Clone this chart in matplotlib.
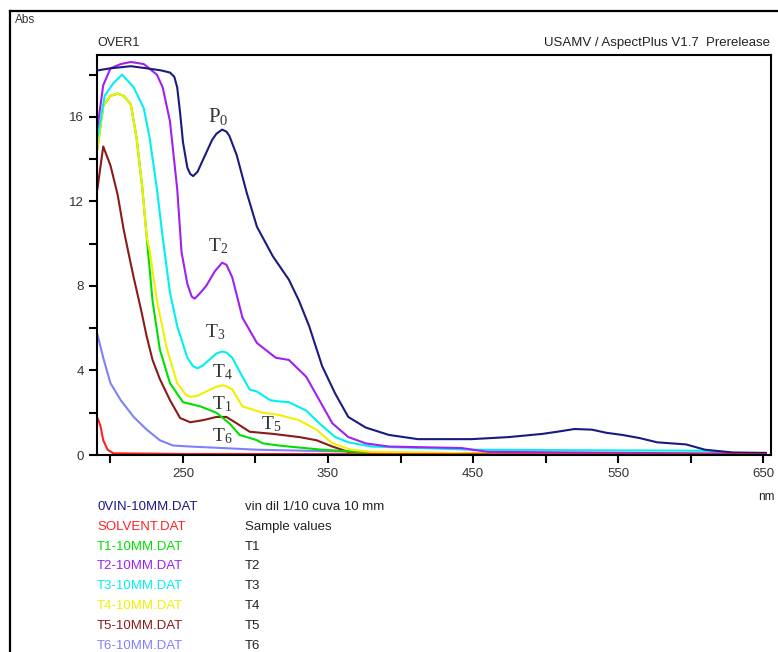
import matplotlib
matplotlib.use('Agg')
import matplotlib.pyplot as plt
from matplotlib.lines import Line2D

# absorbance spectra (nm, Abs)
p0_nm = [191, 200, 214, 225, 235, 241, 244, 246, 248, 250, 253, 255, 257, 260, 266, 270, 273, 277, 280,
         282, 287, 294, 301, 312, 323, 330, 337, 346, 355, 364, 376, 392, 412, 449, 475, 498, 508, 520,
         532, 542, 553, 565, 577, 597, 610, 629, 652]
p0_abs = [18.2, 18.3, 18.4, 18.3, 18.2, 18.1, 17.9, 17.4, 16.2, 14.8, 13.6, 13.3, 13.2, 13.4, 14.3, 14.9,
          15.2, 15.4, 15.3, 15.1, 14.2, 12.4, 10.8, 9.4, 8.3, 7.3, 6.1, 4.2, 2.9, 1.8, 1.3, 0.95, 0.75,
          0.75, 0.85, 1.0, 1.1, 1.23, 1.2, 1.05, 0.95, 0.8, 0.6, 0.5, 0.25, 0.12, 0.1]

solvent_nm = [191, 193, 195, 198, 202, 250, 400, 652]
solvent_abs = [1.75, 1.4, 0.7, 0.25, 0.08, 0.05, 0.04, 0.03]

t1_nm = [191, 195, 200, 205, 209, 214, 218, 222, 225, 229, 234, 241, 250, 262, 273, 282, 289, 294, 301,
         305, 316, 323, 346, 369, 400, 652]
t1_abs = [14.5, 16.5, 17.0, 17.1, 17.0, 16.6, 15.0, 12.6, 10.3, 7.3, 5.0, 3.4, 2.5, 2.3, 2.0, 1.5, 0.95,
          0.85, 0.7, 0.55, 0.45, 0.4, 0.25, 0.15, 0.08, 0.05]

t2_nm = [191, 195, 200, 207, 214, 223, 232, 236, 241, 246, 249, 253, 256, 258, 261, 266, 272, 277, 280,
         284, 291, 301, 314, 323, 335, 344, 353, 364, 376, 392, 442, 460, 652]
t2_abs = [15.5, 17.5, 18.3, 18.5, 18.6, 18.5, 18.0, 17.4, 15.8, 12.6, 9.6, 8.1, 7.5, 7.4, 7.6, 8.0, 8.7,
          9.1, 9.0, 8.4, 6.5, 5.3, 4.6, 4.5, 3.7, 2.6, 1.5, 0.85, 0.55, 0.4, 0.33, 0.15, 0.05]

t3_nm = [191, 196, 202, 208, 216, 223, 227, 232, 236, 241, 246, 253, 257, 260, 264, 268, 273, 277, 280,
         284, 291, 296, 301, 310, 314, 323, 335, 344, 355, 364, 380, 450, 610, 625, 652]
t3_abs = [15.0, 17.0, 17.6, 18.0, 17.4, 16.4, 15.0, 12.6, 10.3, 7.7, 6.1, 4.6, 4.2, 4.1, 4.25, 4.5, 4.8,
          4.9, 4.85, 4.6, 3.7, 3.1, 3.0, 2.6, 2.55, 2.5, 2.1, 1.5, 0.85, 0.6, 0.4, 0.25, 0.2, 0.05, 0.05]

t4_nm = [191, 195, 200, 205, 209, 214, 218, 222, 225, 227, 232, 239, 246, 252, 255, 260, 266, 272, 277,
         280, 284, 291, 305, 316, 330, 342, 353, 366, 380, 450, 652]
t4_abs = [14.5, 16.5, 17.0, 17.1, 17.0, 16.6, 15.0, 12.6, 10.3, 9.7, 7.3, 5.0, 3.4, 2.85, 2.75, 2.8, 3.0,
          3.2, 3.3, 3.25, 3.1, 2.3, 2.0, 1.9, 1.65, 1.2, 0.55, 0.25, 0.15, 0.08, 0.05]

t5_nm = [191, 195, 200, 205, 209, 212, 216, 221, 225, 229, 234, 241, 248, 255, 264, 273, 280, 287, 296,
         312, 330, 342, 353, 364, 400, 652]
t5_abs = [12.6, 14.6, 13.7, 12.3, 10.7, 9.7, 8.4, 6.9, 5.6, 4.5, 3.6, 2.6, 1.75, 1.55, 1.65, 1.8, 1.8,
          1.5, 1.1, 1.0, 0.85, 0.7, 0.4, 0.15, 0.06, 0.04]

t6_nm = [191, 195, 200, 207, 216, 225, 234, 243, 255, 277, 301, 350, 400, 652]
t6_abs = [5.7, 4.6, 3.4, 2.6, 1.8, 1.2, 0.7, 0.45, 0.4, 0.33, 0.25, 0.18, 0.1, 0.05]

files = ['0VIN-10MM.DAT', 'SOLVENT.DAT', 'T1-10MM.DAT', 'T2-10MM.DAT', 'T3-10MM.DAT',
         'T4-10MM.DAT', 'T5-10MM.DAT', 'T6-10MM.DAT']
descr = ['vin dil 1/10 cuva 10 mm', 'Sample values', 'T1', 'T2', 'T3', 'T4', 'T5', 'T6']
colors = ['#1a1a80', '#ff2020', '#00e000', '#a020f0', '#00f0f0', '#f0f000', '#8b1a1a', '#8080ff']

series = [(p0_nm, p0_abs), (solvent_nm, solvent_abs), (t1_nm, t1_abs), (t2_nm, t2_abs),
          (t3_nm, t3_abs), (t4_nm, t4_abs), (t5_nm, t5_abs), (t6_nm, t6_abs)]

plt.rcParams['font.family'] = ['Liberation Sans', 'DejaVu Sans']
plt.rcParams['mathtext.fontset'] = 'custom'
plt.rcParams['mathtext.rm'] = 'Liberation Serif'
plt.rcParams['mathtext.default'] = 'rm'

fig = plt.figure(figsize=(7.78, 6.52), dpi=100)
ax = fig.add_axes([97 / 778, 1 - 455 / 652, (771 - 97) / 778, (455 - 55) / 652])

# draw back to front so the big one is behind
order = [7, 6, 2, 5, 4, 3, 0, 1]
for i in order:
    x, y = series[i]
    ax.plot(x, y, color=colors[i], lw=1.5)

ax.set_xlim(190.7, 655.5)
ax.set_ylim(0, 18.93)
ax.set_xticks([250, 350, 450, 550, 650])
ax.set_xticks([200, 300, 400, 500, 600], minor=True)
ax.set_yticks([0, 4, 8, 12, 16])
ax.set_yticks([2, 6, 10, 14, 18], minor=True)
ax.tick_params(which='both', direction='out', length=6, width=1.5, colors='black',
               labelcolor='#333333', labelsize=9.5)
for s in ax.spines.values():
    s.set_linewidth(1.5)

# curve labels
lab = dict(family=['Liberation Serif', 'DejaVu Serif'], color='#333333')
ax.text(274, 16.0, r'P$_0$', fontsize=15, ha='center', va='center', **lab)
ax.text(274, 9.9, r'T$_2$', fontsize=14, ha='center', va='center', **lab)
ax.text(272, 5.8, r'T$_3$', fontsize=14, ha='center', va='center', **lab)
ax.text(277, 3.9, r'T$_4$', fontsize=14, ha='center', va='center', **lab)
ax.text(277, 2.4, r'T$_1$', fontsize=14, ha='center', va='center', **lab)
ax.text(311, 1.45, r'T$_5$', fontsize=14, ha='center', va='center', **lab)
ax.text(277, 0.9, r'T$_6$', fontsize=14, ha='center', va='center', **lab)

# header / footer texts
fig.text(15 / 778, 1 - 20 / 652, 'Abs', fontsize=8.5, color='#333333', va='center')
fig.text(97 / 778, 1 - 43 / 652, 'OVER1', fontsize=9, color='#222222', va='center')
fig.text(770 / 778, 1 - 43 / 652, 'USAMV / AspectPlus V1.7  Prerelease', fontsize=9.5,
         color='#222222', va='center', ha='right')
fig.text(775 / 778, 1 - 497 / 652, 'nm', fontsize=8.5, color='#222222', va='center', ha='right')

for k in range(len(files)):
    yy = 1 - (507 + 19.8 * k) / 652
    fig.text(97 / 778, yy, files[k], fontsize=9.5, color=colors[k], va='center')
    fig.text(245 / 778, yy, descr[k], fontsize=9.5, color='#222222', va='center')

# outer frame of the scanned page
fig.add_artist(Line2D([10 / 778, 10 / 778], [0, 1 - 11 / 652], color='black', lw=1.6))
fig.add_artist(Line2D([10 / 778, 1], [1 - 11 / 652, 1 - 11 / 652], color='black', lw=1.6))

fig.savefig('out.png', dpi=100)
